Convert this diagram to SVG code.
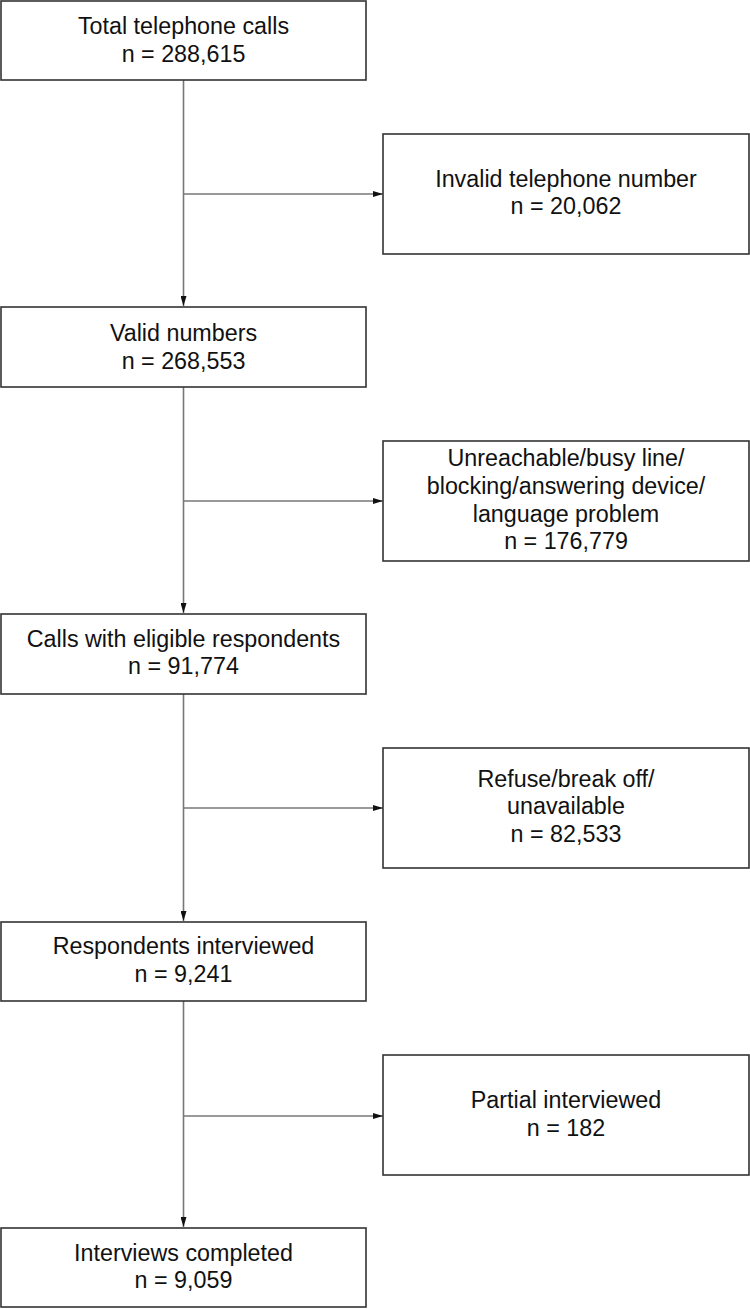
<svg xmlns="http://www.w3.org/2000/svg" width="750" height="1309" viewBox="0 0 750 1309">
<defs>
<marker id="arr" viewBox="0 0 10 6" refX="10" refY="3" markerWidth="10" markerHeight="6" markerUnits="userSpaceOnUse" orient="auto">
<path d="M0,0 L10,3 L0,6 z" fill="#111"/>
</marker>
<style>
.box{fill:#fff;stroke:#333;stroke-width:1.6}
.t{font-family:"Liberation Sans",Arial,sans-serif;font-size:23.3px;fill:#111;text-anchor:middle}
.c{stroke:#777;stroke-width:1.6;fill:none}
</style>
</defs>
<rect width="750" height="1309" fill="#fff"/>
<g id="connectors">
<line class="c" x1="183.5" y1="80" x2="183.5" y2="306" marker-end="url(#arr)"/>
<line class="c" x1="183.5" y1="194" x2="383" y2="194" marker-end="url(#arr)"/>
<line class="c" x1="183.5" y1="387" x2="183.5" y2="613" marker-end="url(#arr)"/>
<line class="c" x1="183.5" y1="501" x2="383" y2="501" marker-end="url(#arr)"/>
<line class="c" x1="183.5" y1="694" x2="183.5" y2="921" marker-end="url(#arr)"/>
<line class="c" x1="183.5" y1="808" x2="383" y2="808" marker-end="url(#arr)"/>
<line class="c" x1="183.5" y1="1001" x2="183.5" y2="1227" marker-end="url(#arr)"/>
<line class="c" x1="183.5" y1="1116" x2="383" y2="1116" marker-end="url(#arr)"/>
</g>
<g id="n1"><rect class="box" x="1" y="1" width="365" height="79"/>
<text class="t" x="183.5" y="34">Total telephone calls</text><text class="t" x="183.5" y="62">n = 288,615</text></g>
<g id="n2"><rect class="box" x="383" y="134" width="366" height="120"/>
<text class="t" x="566" y="187">Invalid telephone number</text><text class="t" x="566" y="214">n = 20,062</text></g>
<g id="n3"><rect class="box" x="1" y="307" width="365" height="80"/>
<text class="t" x="183.5" y="341">Valid numbers</text><text class="t" x="183.5" y="369">n = 268,553</text></g>
<g id="n4"><rect class="box" x="383" y="441" width="366" height="120"/>
<text class="t" x="566" y="466">Unreachable/busy line/</text><text class="t" x="566" y="494">blocking/answering device/</text><text class="t" x="566" y="522">language problem</text><text class="t" x="566" y="549">n = 176,779</text></g>
<g id="n5"><rect class="box" x="1" y="614" width="365" height="80"/>
<text class="t" x="183.5" y="647">Calls with eligible respondents</text><text class="t" x="183.5" y="674">n = 91,774</text></g>
<g id="n6"><rect class="box" x="383" y="748" width="366" height="120"/>
<text class="t" x="566" y="787">Refuse/break off/</text><text class="t" x="566" y="814">unavailable</text><text class="t" x="566" y="842">n = 82,533</text></g>
<g id="n7"><rect class="box" x="1" y="922" width="365" height="79"/>
<text class="t" x="183.5" y="954">Respondents interviewed</text><text class="t" x="183.5" y="982">n = 9,241</text></g>
<g id="n8"><rect class="box" x="383" y="1055" width="366" height="120"/>
<text class="t" x="566" y="1108">Partial interviewed</text><text class="t" x="566" y="1136">n = 182</text></g>
<g id="n9"><rect class="box" x="1" y="1228" width="365" height="79"/>
<text class="t" x="183.5" y="1261">Interviews completed</text><text class="t" x="183.5" y="1288">n = 9,059</text></g>
</svg>
